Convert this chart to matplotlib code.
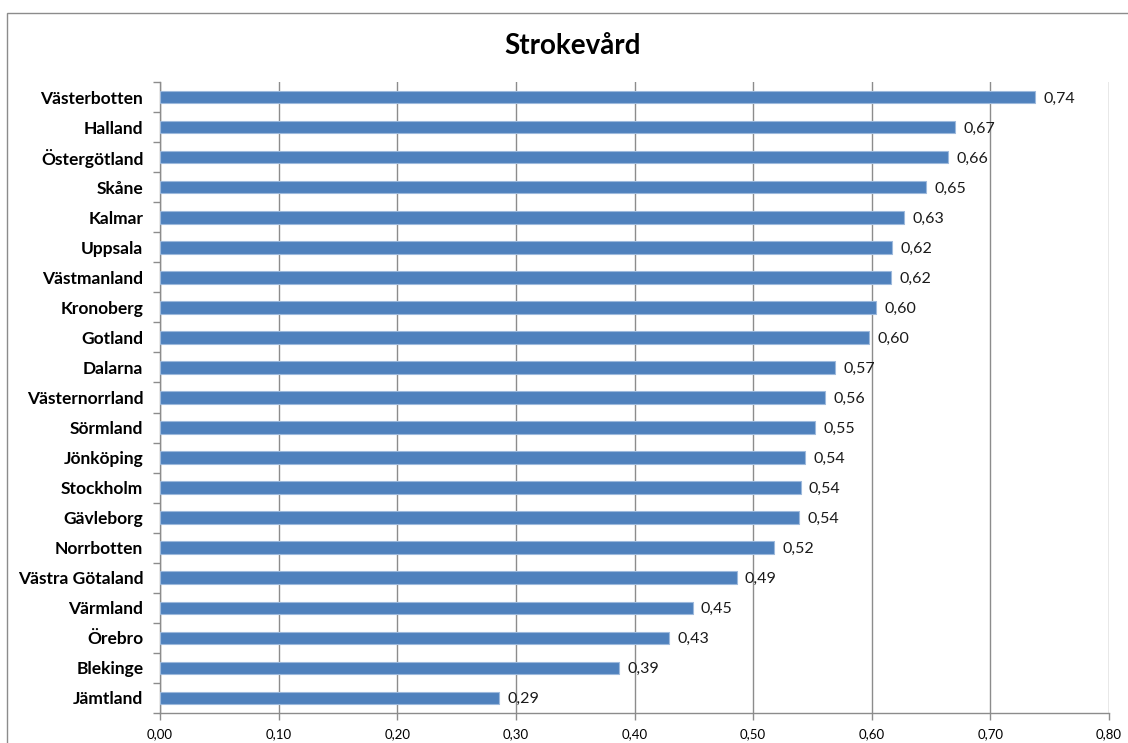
import matplotlib
matplotlib.use("Agg")
import matplotlib.pyplot as plt
from matplotlib.patches import Rectangle
from matplotlib.ticker import FixedLocator, FuncFormatter
import numpy as np

# Landsting, ordered top to bottom
regions = [
    "Västerbotten", "Halland", "Östergötland", "Skåne", "Kalmar", "Uppsala",
    "Västmanland", "Kronoberg", "Gotland", "Dalarna", "Västernorrland",
    "Sörmland", "Jönköping", "Stockholm", "Gävleborg", "Norrbotten",
    "Västra Götaland", "Värmland", "Örebro", "Blekinge", "Jämtland",
]
values = [
    0.738, 0.670, 0.664, 0.646, 0.627, 0.617,
    0.616, 0.604, 0.598, 0.569, 0.561,
    0.552, 0.544, 0.540, 0.539, 0.518,
    0.486, 0.449, 0.429, 0.387, 0.286,
]
x_ticks = [0.0, 0.1, 0.2, 0.3, 0.4, 0.5, 0.6, 0.7, 0.8]
title = "Strokevård"

FONT = ["Lato", "DejaVu Sans"]
plt.rcParams["font.family"] = FONT

def sv(v):
    return f"{v:.2f}".replace(".", ",")

fig = plt.figure(figsize=(11.28, 7.43), dpi=100)
fig.patches.append(Rectangle((7 / 1128, -0.05), 1.1, 1 - 13 / 743 + 0.05,
                             transform=fig.transFigure, fill=False,
                             edgecolor="#8c8c8c", linewidth=1.0))

ax = fig.add_axes([160 / 1128, 1 - 713 / 743, (1109 - 160) / 1128, (713 - 82) / 743])

n = len(regions)
ypos = np.arange(n)
ax.barh(ypos, values, height=0.42, color="#4F81BD", edgecolor="#9DB9DC",
        linewidth=0.8, zorder=3)

for y, v in zip(ypos, values):
    ax.annotate(sv(v), (v, y), xytext=(6, -1), textcoords="offset points",
                va="center", ha="left", fontsize=11.5, color="#1a1a1a")

ax.set_ylim(n - 0.5, -0.5)
ax.set_xlim(0, 0.8)

ax.set_yticks(ypos)
ax.set_yticklabels(regions, fontsize=12.5, fontweight="bold")
ax.tick_params(axis="y", which="major", length=0, pad=12)
ax.yaxis.set_minor_locator(FixedLocator(np.arange(-0.5, n, 1.0)))
ax.tick_params(axis="y", which="minor", length=5, color="#8c8c8c", width=1)

ax.xaxis.set_major_locator(FixedLocator(x_ticks))
ax.xaxis.set_major_formatter(FuncFormatter(lambda v, p: sv(v)))
ax.tick_params(axis="x", length=5, color="#8c8c8c", width=1, labelsize=9.5,
               pad=6)

ax.grid(axis="x", color="#8c8c8c", linewidth=1.0, zorder=0)
ax.set_axisbelow(True)
for s in ("top", "right"):
    ax.spines[s].set_visible(False)
for s in ("left", "bottom"):
    ax.spines[s].set_color("#8c8c8c")
    ax.spines[s].set_linewidth(1.0)

fig.text(573 / 1128, 1 - 46 / 743, title, ha="center", va="center",
         fontsize=20, fontweight="bold")

fig.savefig("out.png", dpi=100)
